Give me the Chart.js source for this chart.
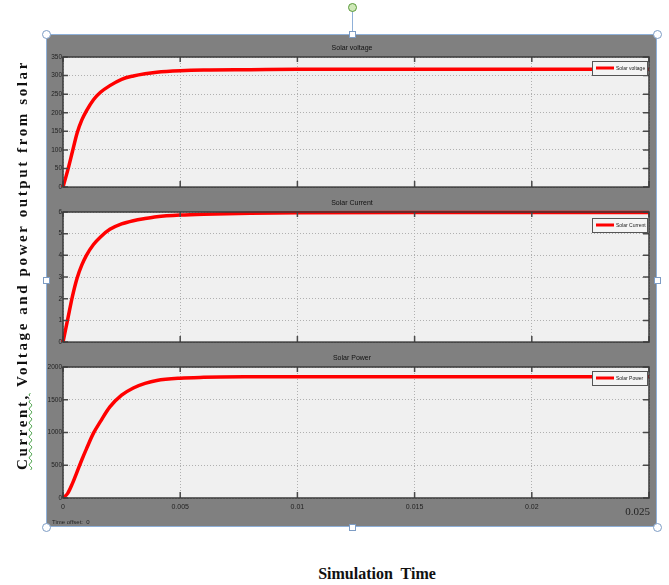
<!DOCTYPE html>
<html>
<head>
<meta charset="utf-8">
<script src="https://cdn.jsdelivr.net/npm/chart.js@4"></script>
<style>
  body { margin: 0; width: 669px; height: 585px; background: #fff; position: relative; overflow: hidden; }
  #frame { position: absolute; left: 47px; top: 35px; width: 610px; height: 492px; background: #808080; }
  #frame canvas { position: absolute; left: 0; }
  .sel { position: absolute; left: 46px; top: 34px; width: 611px; height: 493px; border: 1px solid #8fb0d8; box-sizing: border-box; }
  .h { position: absolute; width: 7px; height: 7px; background: #fff; border: 1px solid #7d9cc4; box-sizing: border-box; }
  .c { border-radius: 50%; width: 9px; height: 9px; }
  #ylab { position: absolute; left: 22px; top: 265px; transform: translate(-50%, -50%) rotate(-90deg); white-space: nowrap;
          font: bold 15px "Liberation Serif", serif; letter-spacing: 2.6px; color: #111; }
  #ylab u { text-decoration: underline wavy #3a9a3a; text-decoration-thickness: 1px; }
  #xlab { position: absolute; left: 377px; top: 574px; transform: translate(-50%, -50%); white-space: nowrap;
          font: bold 16px "Liberation Serif", serif; color: #111; }
  #offset { position: absolute; left: 52px; top: 519px; font: 6px "Liberation Sans Narrow", sans-serif; color: #222; }
</style>
</head>
<body>
<div id="frame">
  <canvas id="c0" width="610" height="157" style="top:0"></canvas>
  <canvas id="c1" width="610" height="155" style="top:157px"></canvas>
  <canvas id="c2" width="610" height="180" style="top:312px"></canvas>
</div>
<div class="sel"></div>
<div style="position:absolute;left:352px;top:10px;width:1px;height:24px;background:#8fb0d8"></div>
<div class="h c" style="left:348px;top:3px;border-color:#5a9a3a;background:#cfe8b8"></div>
<div class="h c" style="left:42px;top:30px"></div>
<div class="h c" style="left:653px;top:30px"></div>
<div class="h c" style="left:42px;top:523px"></div>
<div class="h c" style="left:653px;top:523px"></div>
<div class="h" style="left:349px;top:31px"></div>
<div class="h" style="left:349px;top:524px"></div>
<div class="h" style="left:43px;top:277px"></div>
<div class="h" style="left:654px;top:277px"></div>
<div id="ylab"><u>Current,</u> Voltage and power output from solar</div>
<div id="xlab">Simulation&nbsp; Time</div>
<div id="offset">Time offset:&nbsp; 0</div>
<script>
// simulation time (s) and the three scope traces
const timeSec = [0, 0.0002, 0.0004, 0.0006, 0.0008, 0.001, 0.0013, 0.0016, 0.002, 0.0025,
                 0.003, 0.0035, 0.004, 0.005, 0.006, 0.008, 0.01, 0.015, 0.02, 0.025];
const voltage = [0, 45, 95, 145, 180, 205, 235, 255, 273, 290, 299, 305, 309, 313, 315, 316, 317, 317, 317, 317];
const current = [0, 1.05, 2.1, 2.95, 3.55, 4.0, 4.5, 4.85, 5.2, 5.45, 5.6, 5.7, 5.78, 5.86, 5.9, 5.94, 5.96, 5.98, 5.98, 5.98];
const power = [0, 70, 220, 400, 580, 750, 990, 1170, 1390, 1570, 1680, 1750, 1795, 1830, 1842, 1850, 1852, 1852, 1852, 1852];

const seriesNames = ["Solar voltage", "Solar Current", "Solar Power"];
const seriesData = [voltage, current, power];
const yMax = [350, 6, 2000];
const yStep = [50, 1, 500];
const xTicks = [0, 0.005, 0.01, 0.015, 0.02, 0.025];
const xTickLabels = ["0", "0.005", "0.01", "0.015", "0.02", "0.025"];

const scopeLook = {
    id: "scopeLook",
    beforeDraw(chart) {
        const { ctx, chartArea: a } = chart;
        ctx.save();
        ctx.fillStyle = "#f0f0f0";
        ctx.fillRect(a.left, a.top, a.right - a.left, a.bottom - a.top);
        ctx.restore();
    },
    afterDatasetsDraw(chart, args, opts) {
        const { ctx, chartArea: a } = chart;
        const xs = chart.scales.x, ys = chart.scales.y;
        ctx.save();
        // inside tick marks
        ctx.strokeStyle = "#4a4a4a";
        ctx.lineWidth = 1.5;
        ys.ticks.forEach(t => {
            const y = ys.getPixelForValue(t.value);
            ctx.beginPath();
            ctx.moveTo(a.left, y); ctx.lineTo(a.left + 5, y);
            ctx.moveTo(a.right - 6, y); ctx.lineTo(a.right, y);
            ctx.stroke();
        });
        xs.ticks.forEach(t => {
            const x = xs.getPixelForValue(t.value);
            ctx.beginPath();
            ctx.moveTo(x, a.bottom); ctx.lineTo(x, a.bottom - 6);
            ctx.moveTo(x, a.top); ctx.lineTo(x, a.top + 5);
            ctx.stroke();
        });
        // plot frame
        ctx.strokeStyle = "#3a3a3a";
        ctx.lineWidth = 1.5;
        ctx.strokeRect(a.left, a.top, a.right - a.left, a.bottom - a.top);
        // title
        ctx.fillStyle = "#111";
        ctx.font = "7px 'Liberation Sans Narrow', sans-serif";
        ctx.textAlign = "center";
        ctx.textBaseline = "middle";
        ctx.fillText(opts.title, chart.width / 2, a.top - 9);
        // legend box
        const bx = a.right - 57, by = a.top + opts.legendTop, bw = 55, bh = 14;
        ctx.fillStyle = "#f4f4f4";
        ctx.fillRect(bx, by, bw, bh);
        ctx.strokeStyle = "#555";
        ctx.lineWidth = 1;
        ctx.strokeRect(bx + 0.5, by + 0.5, bw, bh);
        ctx.strokeStyle = "#ff0000";
        ctx.lineWidth = 3;
        ctx.beginPath();
        ctx.moveTo(bx + 4, by + bh / 2); ctx.lineTo(bx + 22, by + bh / 2);
        ctx.stroke();
        ctx.fillStyle = "#222";
        ctx.font = "5px 'Liberation Sans Narrow', sans-serif";
        ctx.textAlign = "left";
        ctx.fillText(opts.title, bx + 24, by + bh / 2 + 0.5);
        if (opts.lastLabel) {
            ctx.font = "11px 'Liberation Serif', serif";
            ctx.textAlign = "right";
            ctx.fillStyle = "#222";
            ctx.fillText(xTickLabels[xTickLabels.length - 1], a.right + 1, a.bottom + 14);
        }
        ctx.restore();
    }
};

const charts = seriesNames.map((name, i) => {
    const last = i === seriesNames.length - 1;
    return new Chart(document.getElementById("c" + i), {
        type: "line",
        data: {
            datasets: [{
                label: name,
                data: timeSec.map((t, k) => ({ x: t, y: seriesData[i][k] })),
                borderColor: "#ff0000",
                borderWidth: 3.5,
                pointRadius: 0,
                cubicInterpolationMode: "monotone",
                clip: 4
            }]
        },
        options: {
            responsive: false,
            animation: false,
            layout: { padding: { top: i === 0 ? 22 : 20, right: 8, left: 0, bottom: last ? 9 : (i === 0 ? 3 : 4) } },
            plugins: {
                legend: { display: false },
                tooltip: { enabled: false },
                scopeLook: { title: name, legendTop: [4, 6, 4][i], lastLabel: last }
            },
            scales: {
                x: {
                    type: "linear",
                    min: 0,
                    max: 0.025,
                    afterBuildTicks: s => { s.ticks = xTicks.map(v => ({ value: v })); },
                    afterFit: s => { s.height = last ? 20 : 0; },
                    grid: { color: "#b0b0b0", lineWidth: 1, drawTicks: false },
                    border: { display: false, dash: [1, 2] },
                    ticks: {
                        display: last,
                        padding: 5,
                        autoSkip: false,
                        maxRotation: 0,
                        color: "#222",
                        font: { size: 7, family: "'Liberation Sans Narrow', sans-serif" },
                        callback: (v, idx) => idx === xTicks.length - 1 ? "" : xTickLabels[idx]
                    }
                },
                y: {
                    min: 0,
                    max: yMax[i],
                    afterFit: s => { s.width = 16; },
                    grid: { color: "#b0b0b0", lineWidth: 1, drawTicks: false },
                    border: { display: false, dash: [1, 2] },
                    ticks: {
                        stepSize: yStep[i],
                        padding: 1,
                        color: "#222",
                        font: { size: 6.5, family: "'Liberation Sans Narrow', sans-serif" },
                        callback: v => String(v)
                    }
                }
            }
        },
        plugins: [scopeLook]
    });
});
</script>
</body>
</html>
